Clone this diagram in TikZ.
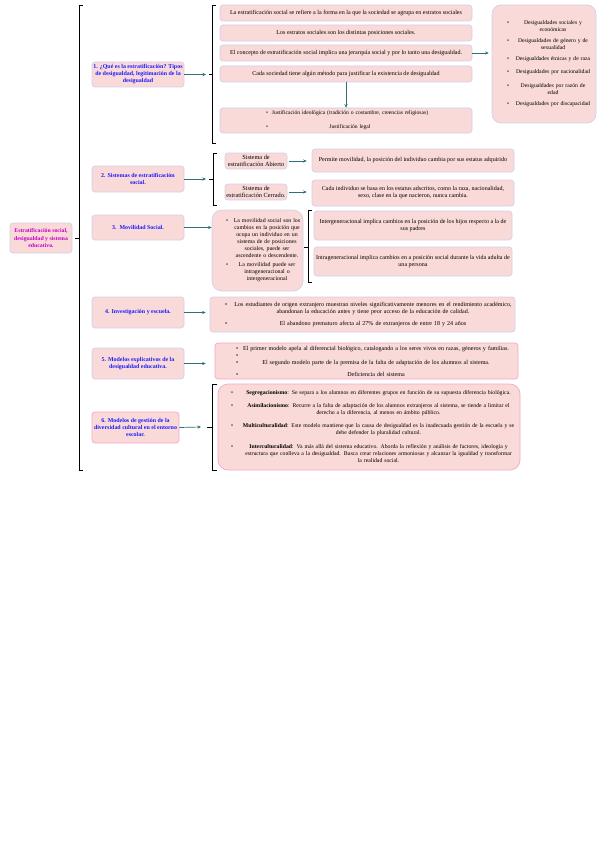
\documentclass[tikz,border=0pt]{standalone}
\usepackage{fontspec}
\setmainfont{Liberation Serif}
\usetikzlibrary{arrows.meta}
\definecolor{pinkf}{HTML}{F9DAD8}
\definecolor{lav}{HTML}{D6CFE8}
\definecolor{pinkb}{HTML}{F5A9C6}
\definecolor{teal2}{HTML}{2F6F76}
\definecolor{bluet}{HTML}{1A1AFF}
\definecolor{mag}{HTML}{C400C8}
\newcommand\fs{\fontsize{6.05}{7}\selectfont}
\newcommand\bli[4]{\noindent\hspace*{#1}\makebox[#2][l]{\textbullet}\parbox[t]{#3}{\centering #4}\par}
\newcommand\blo[4]{\noindent\hspace*{#1}\makebox[#2][l]{\textbullet}\makebox[#3][c]{#4}\par}
\tikzset{
 box/.style={draw=lav, fill=pinkf, rounded corners=3pt, line width=0.7pt, inner sep=1pt, align=center, font=\fs},
 pbox/.style={box, draw=pinkb},
 sec/.style={box, text=bluet, font=\bfseries\fontsize{5.95}{7}\selectfont},
 lbox/.style={box, align=left},
 arr/.style={draw=teal2, line width=0.7pt, -{Stealth[length=3.5pt,width=3.2pt]}},
 brk/.style={draw=black, line width=0.9pt},
}
\begin{document}
\begin{tikzpicture}[x=1pt,y=-1pt]
\useasboundingbox[fill=white] (0,0) rectangle (599,848);

% root
\node[box, text=mag, font=\bfseries\fontsize{5.8}{7.3}\selectfont, minimum width=62pt, minimum height=30pt] (root) at (41,238) {Estratificación social,\\ desigualdad y sistema\\ educativo.};
\draw[brk] (83,5) -- (79,5) -- (79,470) -- (83,470);
\draw[brk] (75,238) -- (79,238);

% section 1
\node[sec, minimum width=92pt, minimum height=25pt] (s1) at (138,74.5) {1. ¿Qué es la estratificación? Tipos\\ de desigualdad, legitimación de la\\ desigualdad};
\coordinate (k1) at (206,74.5);
\draw[arr] (s1.east) -- (k1);
\draw[brk] (216,5) -- (212,5) -- (212,143) -- (216,143);
\draw[brk] (209,74.5) -- (212,74.5);
\node[box, minimum width=252pt, minimum height=16pt] (b1) at (346,13) {La estratificación social se refiere a la forma en la que la sociedad se agrupa en estratos sociales};
\node[box, minimum width=252pt, minimum height=16pt] (b2) at (346,33) {Los estratos sociales son los distintas posiciones sociales.};
\node[box, minimum width=252pt, minimum height=16pt] (b3) at (346,53) {El concepto de estratificación social implica una jerarquía social y por lo tanto una desigualdad.};
\node[box, minimum width=252pt, minimum height=16pt] (b4) at (346,74) {Cada sociedad tiene algún método para justificar la existencia de desigualdad};
\node[lbox, minimum width=252pt, minimum height=25pt, text width=250pt, font=\fontsize{5.6}{7}\selectfont] (b5) at (346,120.5) {\blo{45pt}{6pt}{156pt}{Justificación ideológica (tradición o costumbre, creencias religiosas)}\vspace{7pt}\blo{45pt}{6pt}{156pt}{Justificación legal}};
\draw[arr] (b4.south) -- (b5.north);
\node[lbox, rounded corners=9pt, minimum width=104pt, minimum height=118pt, text width=102pt, font=\fontsize{5.7}{7}\selectfont] (b6) at (544,64) {%
\bli{14pt}{6pt}{80pt}{Desigualdades sociales y\\ económicas}\vspace{5.5pt}%
\bli{14pt}{6pt}{80pt}{Desigualdades de género y de\\ sexualidad}\vspace{6.5pt}%
\blo{14pt}{6pt}{80pt}{Desigualdades étnicas y de raza}\vspace{6pt}%
\blo{14pt}{6pt}{80pt}{Desigualdades por nacionalidad}\vspace{7pt}%
\bli{14pt}{6pt}{80pt}{Desigualdades por razón de\\ edad}\vspace{6pt}%
\blo{14pt}{6pt}{80pt}{Desigualdades por discapacidad}};
\draw[arr, shorten >=3pt] (b3.east) -- (b3.east -| b6.west);

% section 2
\node[sec, minimum width=92pt, minimum height=26pt] (s2) at (138,179) {2. Sistemas de estratificación\\ social.};
\coordinate (k2) at (206,179);
\draw[arr] (s2.east) -- (k2);
\draw[brk] (217,153) -- (213,153) -- (213,205) -- (217,205);
\draw[brk] (209,179) -- (213,179);
\node[box, minimum width=62pt, minimum height=16pt, font=\fontsize{6.3}{7}\selectfont] (op) at (256,161) {Sistema de\\ estratificación Abierto};
\node[box, minimum width=62pt, minimum height=16pt, font=\fontsize{6.3}{7}\selectfont] (cl) at (256,192) {Sistema de\\ estratificación Cerrado.};
\node[box, minimum width=202pt, minimum height=23pt] (opr) at (413,160.5) {Permite movilidad, la posición del individuo cambia por sus estatus adquirido};
\node[box, minimum width=202pt, minimum height=26pt] (clr) at (413,193) {Cada individuo se basa en los estatus adscritos, como la raza, nacionalidad,\\ sexo, clase en la que nacieron, nunca cambia.};
\draw[arr, shorten <=2pt, shorten >=5pt] (op.east) -- (op.east -| opr.west);
\draw[arr, shorten <=2pt, shorten >=5pt] (cl.east) -- (cl.east -| clr.west);

% section 3
\node[sec, minimum width=92pt, minimum height=25pt] (s3) at (138,227.5) {3.\ \ Movilidad Social.};
\node[lbox, rounded corners=10pt, minimum width=91pt, minimum height=81pt, text width=89pt, font=\fontsize{5.85}{7}\selectfont] (m1) at (257.5,250.5) {%
\bli{13pt}{6pt}{70pt}{La movilidad social son los\\ cambios en la posición que\\ ocupa un individuo en un\\ sistema de de posiciones\\ sociales, puede ser\\ ascendente o descendente.}\vspace{4pt}%
\bli{13pt}{6pt}{70pt}{La movilidad puede ser\\ intrageneracional o\\ intergeneracional}};
\draw[arr] (s3.east) -- (s3.east -| m1.west);
\draw[brk] (312,210) -- (308,210) -- (308,282) -- (312,282);
\draw[brk] (304,247) -- (308,247);
\node[box, minimum width=198pt, minimum height=29pt] (ie) at (413,225.5) {Intergeneracional implica cambios en la posición de los hijos respecto a la de\\ sus padres};
\node[box, minimum width=198pt, minimum height=29pt] (ia) at (413,261.5) {Intrageneracional implica cambios en a posición social durante la vida adulta de\\ una persona};

% section 4
\node[sec, minimum width=92pt, minimum height=31pt] (s4) at (138,312.5) {4. Investigación y escuela.};
\node[lbox, minimum width=305pt, minimum height=35pt, text width=303pt] (x4) at (362.5,314.5) {%
\bli{14pt}{7pt}{282pt}{Los estudiantes de origen extranjero muestran niveles significativamente menores en el rendimiento académico,\\ abandonan la educación antes y tiene peor acceso de la educación de calidad.}\vspace{5pt}%
\blo{14pt}{7pt}{282pt}{El abandono prematuro afecta al 27\% de extranjeros de entre 18 y 24 años}};
\draw[arr, shorten >=4pt] (s4.east) -- (s4.east -| x4.west);

% section 5
\node[sec, minimum width=92pt, minimum height=31pt] (s5) at (138,363.5) {5. Modelos explicativos de la\\ desigualdad educativa.};
\node[lbox, draw=pinkb, minimum width=303pt, minimum height=36pt, text width=301pt] (x5) at (366.5,361) {%
\blo{20pt}{4pt}{272pt}{El primer modelo apela al diferencial biológico, catalogando a los seres vivos en razas, géneros y familias.}%
\blo{20pt}{4pt}{272pt}{\strut}%
\blo{20pt}{4pt}{272pt}{El segundo modelo parte de la premisa de la falta de adaptación de los alumnos al sistema.}\vspace{5pt}%
\blo{20pt}{4pt}{272pt}{Deficiencia del sistema}};
\draw[arr, shorten >=9pt] (s5.east) -- (s5.east -| x5.west);

% section 6
\node[sec, draw=pinkb, minimum width=87pt, minimum height=31pt] (s6) at (135.5,427.5) {6. Modelos de gestión de la\\ diversidad cultural en el entorno\\ escolar.};
\coordinate (k6) at (201,427);
\draw[arr] (s6.east) -- (k6);
\draw[brk] (217,384) -- (212,384) -- (212,470) -- (217,470);
\draw[brk] (207,427) -- (212,427);
\node[lbox, draw=pinkb, rounded corners=10pt, minimum width=302pt, minimum height=86pt, text width=300pt, font=\fontsize{5.75}{7}\selectfont] (x6) at (369,427) {%
\bli{12pt}{7pt}{281pt}{\textbf{Segregacionismo}: Se separa a los alumnos en diferentes grupos en función de su supuesta diferencia biológica.}\vspace{6pt}%
\bli{12pt}{7pt}{281pt}{\textbf{Asimilacionismo}: Recurre a la falta de adaptación de los alumnos extranjeros al sistema, se tiende a limitar el\\ derecho a la diferencia, al menos en ámbito público.}\vspace{6.5pt}%
\bli{12pt}{7pt}{281pt}{\textbf{Multiculturalidad}: Este modelo mantiene que la causa de desigualdad es la inadecuada gestión de la escuela y se\\ debe defender la pluralidad cultural.}\vspace{8pt}%
\bli{12pt}{7pt}{281pt}{\textbf{Interculturalidad}: Va más allá del sistema educativo. Aborda la reflexión y análisis de factores, ideología y\\ estructura que conlleva a la desigualdad. Busca crear relaciones armoniosas y alcanzar la igualdad y transformar\\ la realidad social.}};
\end{tikzpicture}
\end{document}
